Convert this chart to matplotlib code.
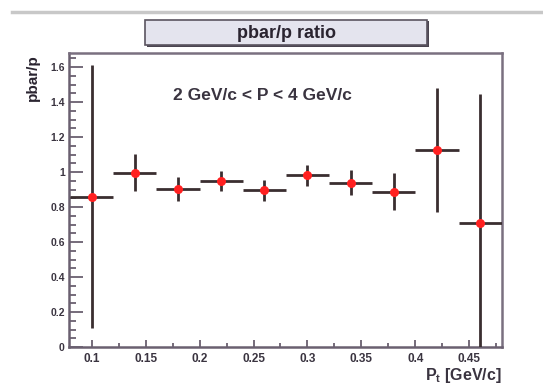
import matplotlib.pyplot as plt
from matplotlib.patches import Rectangle
from matplotlib.ticker import MultipleLocator

# bin centres (Pt, GeV/c), half bin width and ratio values
pt = [0.10, 0.14, 0.18, 0.22, 0.26, 0.30, 0.34, 0.38, 0.42, 0.46]
pt_half = [0.02, 0.02, 0.02, 0.02, 0.02, 0.02, 0.02, 0.02, 0.02, 0.02]
ratio = [0.86, 0.996, 0.905, 0.949, 0.895, 0.983, 0.939, 0.887, 1.125, 0.707]
ratio_err = [0.75, 0.105, 0.068, 0.058, 0.058, 0.06, 0.07, 0.105, 0.355, 0.74]

x_ticks = [0.1, 0.15, 0.2, 0.25, 0.3, 0.35, 0.4, 0.45]
x_labels = ['0.1', '0.15', '0.2', '0.25', '0.3', '0.35', '0.4', '0.45']
y_ticks = [0, 0.2, 0.4, 0.6, 0.8, 1.0, 1.2, 1.4, 1.6]
y_labels = ['0', '0.2', '0.4', '0.6', '0.8', '1', '1.2', '1.4', '1.6']

plt.rcParams['font.family'] = ['Liberation Sans', 'DejaVu Sans']

fig = plt.figure(figsize=(5.43, 3.90), dpi=100)
ax = fig.add_axes([0.127, 0.110, 0.797, 0.754])

ax.errorbar(pt, ratio, xerr=pt_half, yerr=ratio_err, fmt='o', color='#ff2020',
            markersize=5.5, ecolor='#3a2e30', elinewidth=2, capsize=0, zorder=3)

ax.set_xlim(0.079, 0.48)
ax.set_ylim(0, 1.68)
ax.set_xticks(x_ticks)
ax.set_xticklabels(x_labels, fontsize=8.5, fontweight='bold', color='#3a3440')
ax.set_yticks(y_ticks)
ax.set_yticklabels(y_labels, fontsize=7.5, fontweight='bold', color='#3a3440')
ax.xaxis.set_minor_locator(MultipleLocator(0.025))
ax.yaxis.set_minor_locator(MultipleLocator(0.05))
ax.tick_params(axis='x', which='major', direction='in', length=5, width=1.3, color='#6a6070', pad=4)
ax.tick_params(axis='x', which='minor', direction='in', length=3, width=1.3, color='#6a6070')
ax.tick_params(axis='y', which='major', direction='in', length=10, width=1.3, color='#6a6070', pad=3)
ax.tick_params(axis='y', which='minor', direction='in', length=5, width=1.3, color='#6a6070')

for side in ['left', 'bottom']:
    ax.spines[side].set_color('#6a6070')
    ax.spines[side].set_linewidth(1.8)
for side in ['top', 'right']:
    ax.spines[side].set_color('#7a7080')
    ax.spines[side].set_linewidth(1.8)

ax.text(0.24, 0.855, '2 GeV/c < P < 4 GeV/c', transform=ax.transAxes,
        fontsize=12.5, fontweight='bold', color='#3a3440', va='center')

fig.text(0.924, 0.036, r'P$_{\mathregular{t}}$ [GeV/c]', ha='right', va='center',
         fontsize=11.5, fontweight='bold', color='#3a3440')
fig.text(0.061, 0.862, 'pbar/p', rotation=90, ha='center', va='top',
         fontsize=11, fontweight='bold', color='#2a2430')

# title box with shadow
fig.patches.append(Rectangle((0.271, 0.879), 0.519, 0.066, transform=fig.transFigure,
                             facecolor='#4a4450', edgecolor='none'))
fig.patches.append(Rectangle((0.267, 0.885), 0.519, 0.064, transform=fig.transFigure,
                             facecolor='#e4e4ee', edgecolor='#5a5460', linewidth=1.2))
fig.text(0.527, 0.913, 'pbar/p ratio', ha='center', va='center',
         fontsize=13, fontweight='bold', color='#2a2430')

# faint line at the top of the canvas
fig.lines.append(plt.Line2D([0.022, 1.0], [0.97, 0.97], transform=fig.transFigure,
                            color='#c8c8c8', linewidth=2.5))

fig.savefig('out.png', dpi=100)
